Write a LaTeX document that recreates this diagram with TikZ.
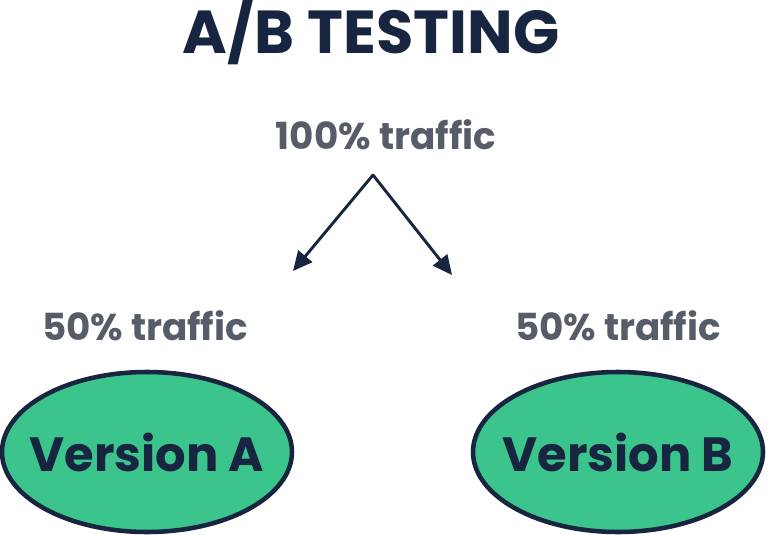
\documentclass[tikz,border=0pt]{standalone}
\usepackage{fontspec}
\setmainfont{Poppins}
\usetikzlibrary{arrows.meta,shapes.geometric}
\definecolor{navy}{HTML}{172541}
\definecolor{slate}{HTML}{565D69}
\definecolor{mint}{HTML}{3BC48B}
\begin{document}
\begin{tikzpicture}[x=0.75pt,y=-0.75pt,
  heading/.style={font=\fontsize{45.5}{48}\selectfont\bfseries, text=navy, inner sep=0},
  share/.style={font=\fontsize{28}{30}\selectfont\bfseries, text=slate, inner sep=0},
  variant/.style={ellipse, draw=navy, line width=3.4pt, fill=mint,
    minimum width=290*0.75pt, minimum height=160*0.75pt, inner sep=0,
    font=\fontsize{36}{38}\selectfont\bfseries, text=navy},
  split/.style={draw=navy, line width=2.2pt, line cap=round,
    -{Triangle[length=14.5pt,width=13.5pt]}}]
  \useasboundingbox (0,0) rectangle (768,535);
  \node[heading] (title) at (371,30) {A/B TESTING};
  \node[share] (total) at (386,135) {100\% traffic};
  \coordinate (fork) at (373,175);
  \coordinate (leftend) at (293,271);
  \coordinate (rightend) at (452,275);
  \draw[split] (fork) -- (leftend);
  \draw[split] (fork) -- (rightend);
  \node[share] (halfA) at (145,326) {50\% traffic};
  \node[share] (halfB) at (618,326) {50\% traffic};
  \node[variant] (verA) at (147,452) {\makebox[0pt]{Version A}};
  \node[variant] (verB) at (618,452) {\makebox[0pt]{Version B}};
\end{tikzpicture}
\end{document}
